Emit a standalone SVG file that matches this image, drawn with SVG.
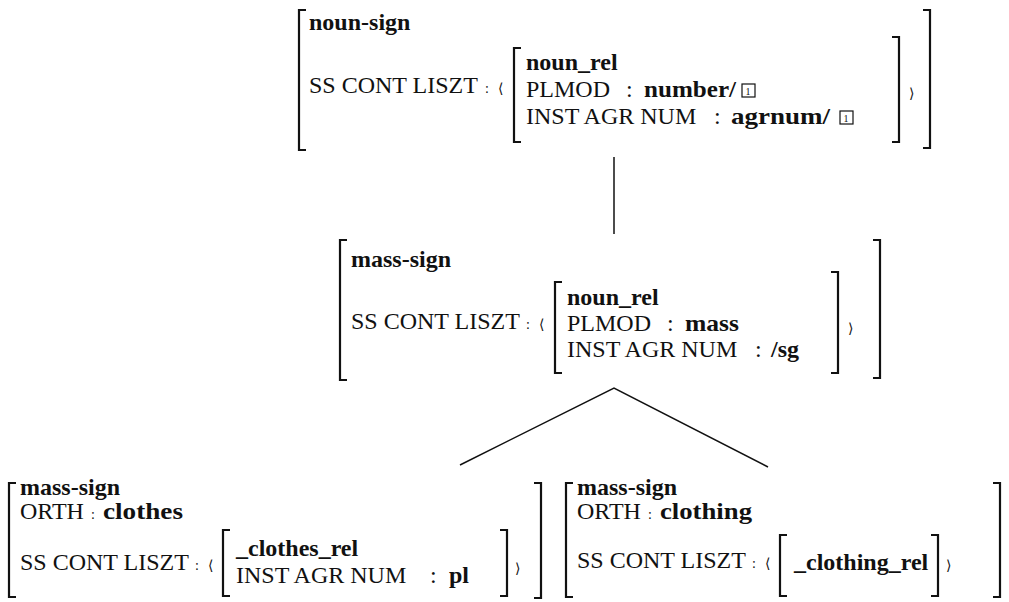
<svg xmlns="http://www.w3.org/2000/svg" width="1009" height="602" viewBox="0 0 1009 602">
<style>
text{font-family:"Liberation Serif","Times New Roman",serif;font-size:24px;fill:#111}
.b{font-weight:bold}
.sm{font-size:14px}
.ang{font-family:"DejaVu Serif",serif;font-size:14px}
.br{fill:none;stroke:#111;stroke-width:2.2}
.ln{fill:none;stroke:#111;stroke-width:1.5}
.tag{fill:none;stroke:#111;stroke-width:1.2}
.n1{font-size:10px}
</style>
<rect width="1009" height="602" fill="#fff"/>
<g id="connectors">
<line class="ln" x1="614" y1="157" x2="614" y2="234"/>
<polyline class="ln" points="460,465 614,388 768,467"/>
</g>
<g id="noun-sign">
<path class="br" d="M306,10 H299 V150 H306"/>
<text class="b" x="309" y="30">noun-sign</text>
<text x="309" y="93">SS CONT LISZT</text>
<text class="sm" x="485" y="93">:</text>
<text class="ang" x="498" y="93">⟨</text>
<path class="br" d="M521,48 H514 V142 H521"/>
<text class="b" x="526" y="70">noun_rel</text>
<text x="526" y="97">PLMOD</text>
<text x="626" y="97">:</text>
<text class="b" x="644" y="97" textLength="92" lengthAdjust="spacingAndGlyphs">number/</text>
<rect class="tag" x="742" y="84" width="13" height="13"/>
<text class="n1" x="745.5" y="94.5">1</text>
<text x="526" y="124">INST AGR NUM</text>
<text x="714" y="124">:</text>
<text class="b" x="731" y="124" textLength="99" lengthAdjust="spacingAndGlyphs">agrnum/</text>
<rect class="tag" x="840" y="111" width="13" height="13"/>
<text class="n1" x="843.5" y="121.5">1</text>
<path class="br" d="M892,37 H899 V142 H892"/>
<text class="ang" x="909" y="98">⟩</text>
<path class="br" d="M923,10 H930 V148 H923"/>
</g>
<g id="mass-sign">
<path class="br" d="M347,240 H340 V380 H347"/>
<text class="b" x="351" y="267">mass-sign</text>
<text x="351" y="329">SS CONT LISZT</text>
<text class="sm" x="526" y="329">:</text>
<text class="ang" x="539" y="329">⟨</text>
<path class="br" d="M562,282 H555 V373 H562"/>
<text class="b" x="567" y="305">noun_rel</text>
<text x="567" y="331">PLMOD</text>
<text x="667" y="331">:</text>
<text class="b" x="685" y="331" textLength="54" lengthAdjust="spacingAndGlyphs">mass</text>
<text x="567" y="357">INST AGR NUM</text>
<text x="755" y="357">:</text>
<text class="b" x="771" y="357">/sg</text>
<path class="br" d="M831,272 H838 V373 H831"/>
<text class="ang" x="848" y="333">⟩</text>
<path class="br" d="M873,240 H880 V378 H873"/>
</g>
<g id="clothes">
<path class="br" d="M16,483 H9 V597 H16"/>
<text class="b" x="20" y="495">mass-sign</text>
<text x="20" y="519">ORTH</text>
<text class="sm" x="91" y="519">:</text>
<text class="b" x="103" y="519" textLength="80" lengthAdjust="spacingAndGlyphs">clothes</text>
<text x="20" y="570">SS CONT LISZT</text>
<text class="sm" x="195" y="570">:</text>
<text class="ang" x="208" y="570">⟨</text>
<path class="br" d="M230,530 H223 V596 H230"/>
<text class="b" x="236" y="556">_clothes_rel</text>
<text x="236" y="583">INST AGR NUM</text>
<text x="430" y="583">:</text>
<text class="b" x="449" y="583">pl</text>
<path class="br" d="M500,530 H507 V596 H500"/>
<text class="ang" x="515" y="573">⟩</text>
<path class="br" d="M534,483 H541 V598 H534"/>
</g>
<g id="clothing">
<path class="br" d="M573,483 H566 V597 H573"/>
<text class="b" x="577" y="495">mass-sign</text>
<text x="577" y="519">ORTH</text>
<text class="sm" x="648" y="519">:</text>
<text class="b" x="660" y="519" textLength="92" lengthAdjust="spacingAndGlyphs">clothing</text>
<text x="577" y="568">SS CONT LISZT</text>
<text class="sm" x="752" y="568">:</text>
<text class="ang" x="765" y="568">⟨</text>
<path class="br" d="M787,535 H780 V596 H787"/>
<text class="b" x="794" y="570">_clothing_rel</text>
<path class="br" d="M931,535 H938 V596 H931"/>
<text class="ang" x="946" y="570">⟩</text>
<path class="br" d="M993,483 H1000 V597 H993"/>
</g>
</svg>
